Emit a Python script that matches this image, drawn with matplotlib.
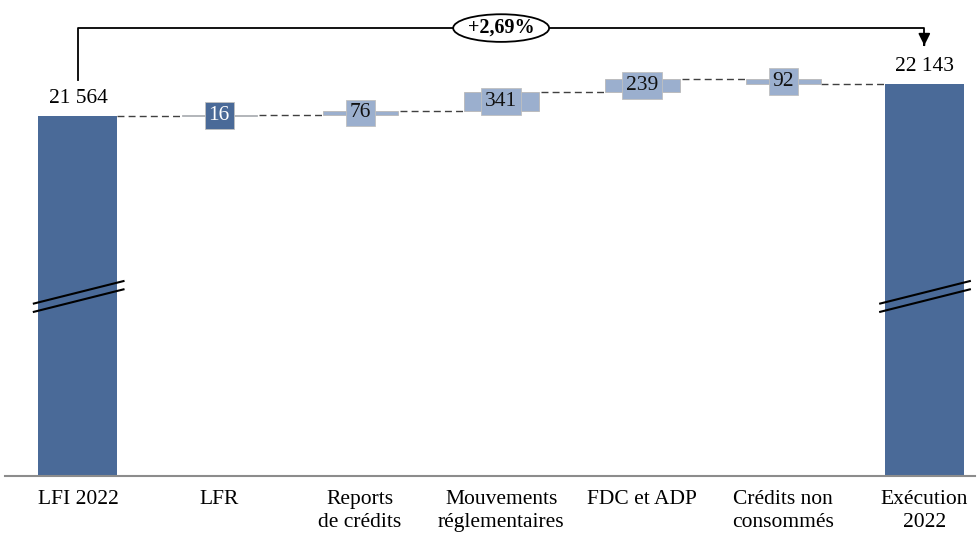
import matplotlib
matplotlib.use("Agg")
import matplotlib.pyplot as plt
from matplotlib.patches import Ellipse

# données
categories = ["LFI 2022", "LFR", "Reports\nde crédits", "Mouvements\nréglementaires",
              "FDC et ADP", "Crédits non\nconsommés", "Exécution\n2022"]
lfi_2022 = 21564
variations = [16, 76, 341, 239, -92]
execution_2022 = 22143
variation_label = "+2,69%"

dark_blue = "#4a6a98"
light_blue = "#9bafce"

plt.rcParams["font.family"] = ["Liberation Serif", "DejaVu Serif"]

fig = plt.figure(figsize=(9.8, 5.34), dpi=100)
ax = fig.add_axes([0.005, 0.1086, 0.99, 0.8914])

width = 0.56
y_bottom = 15047
y_top = 23663

# barres totales
ax.bar([0, 6], [lfi_2022, execution_2022], width=width, color=dark_blue, zorder=2)

# barres flottantes
level = lfi_2022
for i, v in enumerate(variations, start=1):
    start = level
    end = level + v
    col = dark_blue if i == 1 else light_blue
    ax.bar(i, abs(v), bottom=min(start, end), width=width * 0.95, color=col,
           edgecolor="#b8b8b8", linewidth=0.6, zorder=2)
    # pointillés de liaison
    ax.plot([i - 1 + width / 2, i - width * 0.95 / 2], [start, start], ls=(0, (5, 3)),
            color="#404040", lw=1.0, zorder=1)
    txt_col = "white" if i == 1 else "#111111"
    ax.text(i, (start + end) / 2, f"{abs(v)}", ha="center", va="center",
            fontsize=15.5, color=txt_col, zorder=3,
            bbox=dict(boxstyle="square,pad=0.18", fc=col, ec="#c0c0c0", lw=0.6))
    level = end
ax.plot([5 + width * 0.95 / 2, 6 - width / 2], [level, level], ls=(0, (5, 3)),
        color="#404040", lw=1.0, zorder=1)

# valeurs des totaux
ax.text(0, lfi_2022 + 150, "21 564", ha="center", va="bottom", fontsize=15.5)
ax.text(6, execution_2022 + 150, "22 143", ha="center", va="bottom", fontsize=15.5)

# flèche d'évolution
y_arrow = 23155
ax.plot([0, 0, 6, 6], [lfi_2022 + 650, y_arrow, y_arrow, 22840], color="black", lw=1.3, zorder=3)
ax.annotate("", xy=(6, 22790), xytext=(6, 22900),
            arrowprops=dict(arrowstyle="-|>,head_width=0.35,head_length=0.7", color="black", lw=1.3))
ell = Ellipse((3.0, y_arrow), width=0.68, height=500, facecolor="white",
              edgecolor="black", lw=1.3, zorder=4)
ax.add_patch(ell)
ax.text(3.0, y_arrow, variation_label, ha="center", va="center", fontsize=14.5,
        fontweight="bold", zorder=5)

# marques de rupture d'axe
for x0 in [0, 6]:
    for dy in [0, -150]:
        ax.plot([x0 - 0.32, x0 + 0.33], [18164 + dy, 18580 + dy], color="black",
                lw=1.5, zorder=4, solid_capstyle="butt")

ax.set_xlim(-0.518, 6.36)
ax.set_ylim(y_bottom, y_top)
ax.set_xticks(range(len(categories)))
ax.set_xticklabels(categories, fontsize=15.5, linespacing=1.3)
ax.tick_params(axis="x", length=0, pad=10)
ax.set_yticks([])
for s in ["top", "right", "left"]:
    ax.spines[s].set_visible(False)
ax.spines["bottom"].set_color("#8c8c8c")
ax.spines["bottom"].set_linewidth(1.5)

fig.savefig("out.png", dpi=100)
